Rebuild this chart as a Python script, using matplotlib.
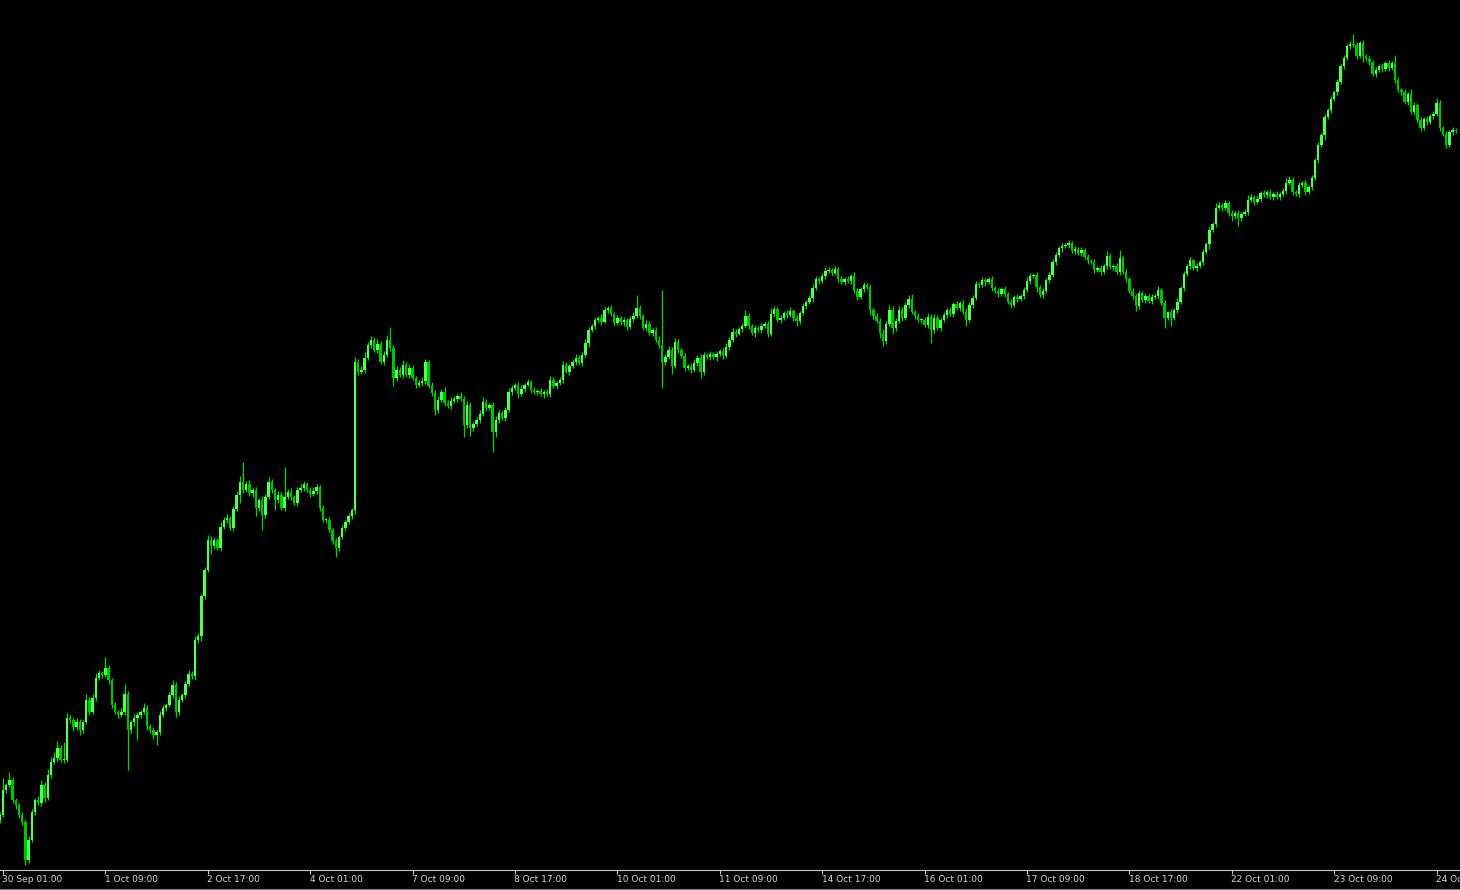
import matplotlib
matplotlib.use("Agg")
import matplotlib.pyplot as plt
from matplotlib.lines import Line2D

# ---------------- data (H1 candles, price level in arbitrary points; no price scale shown) -------------
first_open = 50
closes = [
    55, 80, 85, 90, 70, 65, 55, 48, 10, 30,
    58, 70, 67, 85, 72, 95, 108, 112, 122, 110,
    110, 152, 150, 143, 148, 140, 148, 170, 158, 172,
    192, 197, 195, 202, 190, 165, 158, 155, 158, 176,
    140, 148, 152, 155, 158, 162, 144, 140, 135, 138,
    155, 162, 165, 175, 185, 158, 170, 175, 186, 196,
    194, 230, 234, 274, 300, 330, 324, 330, 322, 343,
    350, 352, 342, 361, 375, 388, 380, 386, 377, 380,
    362, 370, 355, 373, 388, 380, 370, 375, 362, 373,
    378, 373, 367, 380, 382, 386, 380, 376, 379, 383,
    362, 350, 350, 340, 329, 322, 333, 342, 348, 354,
    360, 508, 498, 500, 512, 525, 530, 520, 526, 508,
    515, 530, 522, 492, 500, 495, 505, 495, 502, 492,
    485, 487, 489, 508, 484, 477, 460, 470, 478, 467,
    464, 469, 471, 474, 471, 445, 465, 442, 446, 450,
    456, 468, 462, 465, 438, 450, 457, 452, 460, 478,
    482, 485, 476, 481, 485, 488, 480, 478, 479, 476,
    478, 476, 490, 484, 487, 490, 505, 498, 504, 508,
    512, 507, 515, 527, 540, 544, 550, 552, 548, 560,
    562, 556, 547, 552, 548, 550, 543, 551, 554, 562,
    554, 542, 546, 537, 540, 530, 525, 508, 513, 520,
    504, 528, 520, 514, 502, 504, 500, 507, 512, 498,
    515, 513, 516, 513, 516, 519, 514, 523, 530, 538,
    536, 541, 544, 554, 544, 537, 542, 540, 544, 546,
    536, 556, 561, 550, 552, 557, 555, 559, 552, 549,
    557, 564, 568, 572, 582, 591, 589, 594, 599, 600,
    597, 601, 591, 588, 591, 589, 594, 579, 573, 581,
    585, 583, 560, 554, 549, 537, 529, 546, 560, 542,
    549, 560, 552, 565, 571, 558, 554, 550, 550, 545,
    553, 540, 552, 542, 550, 555, 560, 556, 566, 562,
    567, 558, 550, 565, 572, 586, 585, 590, 588, 591,
    582, 579, 576, 581, 576, 568, 565, 573, 571, 574,
    580, 589, 594, 595, 583, 575, 579, 590, 595, 608,
    615, 622, 624, 625, 627, 619, 621, 617, 620, 613,
    609, 608, 600, 602, 598, 604, 614, 603, 604, 598,
    612, 598, 591, 579, 574, 564, 577, 570, 574, 569,
    573, 574, 580, 567, 552, 558, 552, 560, 568, 582,
    596, 604, 610, 602, 604, 608, 618, 626, 640, 646,
    662, 665, 662, 667, 657, 654, 657, 652, 656, 658,
    670, 673, 668, 671, 677, 675, 678, 673, 676, 673,
    676, 679, 687, 690, 678, 676, 685, 687, 678, 683,
    692, 710, 725, 735, 753, 760, 771, 778, 788, 804,
    812, 824, 826, 825, 814, 827, 814, 811, 808, 796,
    800, 804, 801, 807, 802, 807, 790, 780, 778, 768,
    776, 758, 765, 750, 742, 751, 748, 754, 756, 767,
    742, 736, 725, 738, 740, 739,
]

# upper shadow above the body, lower shadow below the body (same units)
upper_shadow = [
    3, 12, 2, 8, 3, 2, 2, 3, 2, 4, 3, 2, 4, 5, 3, 6, 5, 6, 7, 3,
    18, 5, 3, 2, 4, 3, 2, 6, 3, 4, 5, 3, 2, 11, 3, 2, 3, 2, 4, 10,
    3, 2, 4, 3, 2, 5, 3, 2, 3, 2, 4, 3, 2, 3, 5, 3, 4, 2, 3, 4,
    3, 4, 3, 2, 3, 5, 4, 3, 2, 5, 3, 4, 2, 3, 4, 6, 20, 3, 4, 2,
    3, 2, 4, 3, 5, 3, 2, 4, 3, 30, 3, 4, 2, 3, 4, 3, 2, 3, 4, 3,
    2, 3, 2, 3, 2, 3, 2, 3, 2, 3, 2, 5, 3, 4, 6, 3, 4, 3, 5, 3,
    4, 5, 13, 3, 4, 3, 5, 3, 4, 3, 2, 3, 4, 3, 2, 4, 3, 4, 3, 5,
    3, 4, 3, 2, 4, 3, 4, 3, 2, 3, 4, 5, 3, 2, 3, 4, 3, 2, 3, 4,
    3, 2, 3, 4, 2, 3, 2, 3, 2, 3, 2, 3, 4, 3, 2, 3, 4, 3, 2, 3,
    4, 3, 3, 4, 3, 2, 3, 2, 4, 3, 2, 3, 2, 3, 2, 3, 2, 3, 4, 13,
    3, 2, 4, 3, 2, 3, 4, 55, 3, 4, 3, 4, 3, 2, 3, 2, 3, 4, 3, 4,
    3, 2, 3, 2, 3, 2, 3, 4, 3, 4, 3, 2, 3, 6, 3, 2, 3, 2, 3, 3,
    3, 6, 3, 2, 3, 2, 3, 4, 2, 3, 2, 3, 2, 3, 4, 3, 2, 3, 4, 3,
    2, 3, 2, 3, 2, 3, 2, 4, 3, 2, 3, 2, 3, 2, 3, 3, 4, 3, 5, 4,
    3, 4, 3, 3, 4, 5, 2, 3, 2, 3, 4, 3, 4, 3, 2, 3, 2, 3, 2, 3,
    2, 3, 4, 3, 3, 3, 2, 3, 2, 2, 3, 2, 3, 2, 3, 2, 3, 2, 3, 2,
    3, 4, 3, 2, 3, 2, 3, 2, 3, 3, 3, 2, 3, 2, 3, 2, 3, 2, 3, 2,
    3, 2, 3, 2, 3, 2, 5, 3, 2, 3, 8, 2, 3, 2, 3, 2, 3, 2, 3, 2,
    3, 2, 4, 2, 3, 1, 3, 2, 4, 2, 3, 2, 3, 1, 3, 2, 3, 2, 3, 2,
    5, 3, 2, 3, 2, 3, 2, 3, 2, 3, 5, 3, 2, 3, 2, 3, 2, 3, 2, 3,
    2, 3, 5, 4, 3, 2, 3, 2, 3, 2, 3, 2, 3, 2, 3, 2, 3, 2, 3, 2,
    3, 2, 3, 10, 3, 2, 3, 2, 3, 2, 3, 2, 3, 2, 3, 2, 8, 3, 2, 3,
    2, 5, 3, 2, 3, 2, 3, 2, 3, 5, 3, 2, 3, 2, 3, 2,
]
lower_shadow = [
    3, 2, 3, 2, 3, 4, 3, 3, 5, 3, 2, 3, 2, 3, 4, 2, 3, 2, 3, 2,
    3, 2, 3, 4, 3, 5, 3, 2, 3, 2, 3, 2, 3, 2, 4, 3, 2, 3, 2, 3,
    40, 3, 4, 22, 3, 2, 4, 3, 4, 10, 3, 2, 3, 2, 3, 5, 3, 2, 3, 2,
    3, 4, 3, 5, 3, 2, 8, 3, 2, 3, 2, 3, 2, 3, 2, 8, 3, 2, 3, 4,
    8, 3, 15, 3, 2, 3, 10, 3, 2, 3, 2, 3, 2, 3, 2, 3, 2, 3, 2, 3,
    3, 2, 3, 2, 3, 9, 3, 2, 3, 2, 3, 4, 3, 2, 3, 2, 3, 2, 3, 2,
    3, 2, 3, 8, 3, 2, 3, 2, 3, 2, 3, 2, 3, 3, 2, 3, 5, 3, 2, 3,
    2, 3, 2, 3, 2, 12, 3, 8, 3, 2, 3, 2, 3, 2, 20, 5, 3, 2, 3, 2,
    3, 2, 4, 2, 3, 1, 3, 2, 3, 2, 4, 2, 3, 2, 3, 2, 3, 1, 3, 2,
    3, 2, 3, 2, 4, 2, 3, 2, 3, 1, 3, 2, 3, 2, 3, 4, 3, 2, 3, 2,
    3, 2, 3, 2, 3, 2, 3, 26, 3, 2, 8, 2, 3, 2, 3, 2, 3, 2, 3, 6,
    3, 2, 3, 2, 4, 2, 3, 2, 3, 2, 3, 1, 3, 2, 3, 2, 4, 2, 3, 2,
    3, 2, 3, 2, 3, 2, 3, 2, 3, 5, 3, 2, 3, 2, 4, 2, 3, 2, 3, 2,
    3, 2, 3, 2, 3, 2, 3, 2, 3, 2, 3, 2, 5, 3, 2, 5, 5, 3, 2, 6,
    3, 2, 3, 2, 3, 2, 3, 2, 3, 2, 3, 13, 3, 2, 3, 2, 3, 2, 3, 2,
    3, 2, 6, 2, 3, 2, 3, 2, 4, 2, 3, 2, 3, 2, 3, 2, 3, 2, 3, 2,
    3, 2, 3, 2, 5, 2, 3, 2, 3, 2, 3, 2, 4, 2, 3, 2, 3, 2, 3, 2,
    3, 2, 3, 2, 3, 2, 3, 2, 3, 2, 3, 2, 3, 2, 3, 5, 3, 2, 3, 2,
    3, 2, 3, 2, 10, 2, 8, 2, 3, 2, 3, 2, 3, 2, 3, 2, 3, 2, 5, 2,
    3, 2, 3, 2, 3, 5, 3, 8, 3, 2, 3, 2, 3, 2, 3, 2, 3, 2, 3, 2,
    3, 2, 3, 2, 3, 2, 3, 2, 3, 2, 3, 2, 3, 2, 5, 2, 3, 2, 3, 2,
    3, 2, 3, 2, 3, 2, 6, 2, 3, 2, 3, 2, 3, 2, 3, 2, 3, 2, 3, 2,
    3, 2, 3, 2, 3, 2, 3, 2, 3, 2, 3, 2, 3, 2, 3, 2,
]

# time axis labels (one every 32 H1 bars, starting at bar 1)
tick_labels = [
    "30 Sep 01:00", "1 Oct 09:00", "2 Oct 17:00", "4 Oct 01:00", "7 Oct 09:00",
    "8 Oct 17:00", "10 Oct 01:00", "11 Oct 09:00", "14 Oct 17:00", "16 Oct 01:00",
    "17 Oct 09:00", "18 Oct 17:00", "22 Oct 01:00", "23 Oct 09:00", "24 Oct 17:00",
]

# ---------------- figure ----------------
W, H = 1460, 890
DPI = 100
BG = "#000000"
BULL = "#50ff50"
BEAR = "#00c400"
WICK = "#00dc00"
AXIS = "#c8c8c8"

fig = plt.figure(figsize=(W / DPI, H / DPI), dpi=DPI, facecolor=BG)
ax = fig.add_axes([0, 20 / H, 1, 870 / H])
ax.set_facecolor(BG)

n = len(closes)
opens = [first_open] + closes[:-1]
idx = list(range(n))
highs = [max(o, c) + u for o, c, u in zip(opens, closes, upper_shadow)]
lows = [min(o, c) - d for o, c, d in zip(opens, closes, lower_shadow)]

ax.vlines(idx, lows, highs, colors=WICK, linewidth=0.9, zorder=2)
body_bottom = [min(o, c) for o, c in zip(opens, closes)]
body_height = [max(abs(c - o), 1.0) for o, c in zip(opens, closes)]
body_color = [BULL if c >= o else BEAR for o, c in zip(opens, closes)]
ax.bar(idx, body_height, bottom=body_bottom, width=0.72, color=body_color,
       edgecolor="none", linewidth=0, zorder=3)

px_per_bar = 3.2
ax.set_xlim(0.2 / px_per_bar, (W + 0.2) / px_per_bar)
ax.set_ylim(0, 870)

for s in ["top", "left", "right"]:
    ax.spines[s].set_visible(False)
ax.spines["bottom"].set_color(AXIS)
ax.spines["bottom"].set_linewidth(0.8)
ax.set_yticks([])

tick_pos = [1 + 32 * k for k in range(len(tick_labels))]
ax.set_xticks(tick_pos)
ax.set_xticklabels([])
ax.tick_params(axis="x", direction="out", length=3, width=0.8, color=AXIS)
for p, lab in zip(tick_pos, tick_labels):
    ax.annotate(lab, xy=(p, 0), xycoords=("data", "axes fraction"),
                xytext=(-0.4, -3.6), textcoords="offset points",
                ha="left", va="top", fontsize=6.5, color="#d8d8d8",
                family="DejaVu Sans", annotation_clip=False)

# bottom frame line
fig.add_artist(Line2D([0, 1], [1.2 / H, 1.2 / H], transform=fig.transFigure,
                      color="#808080", linewidth=0.8))

fig.savefig("out.png", dpi=DPI, facecolor=BG)
